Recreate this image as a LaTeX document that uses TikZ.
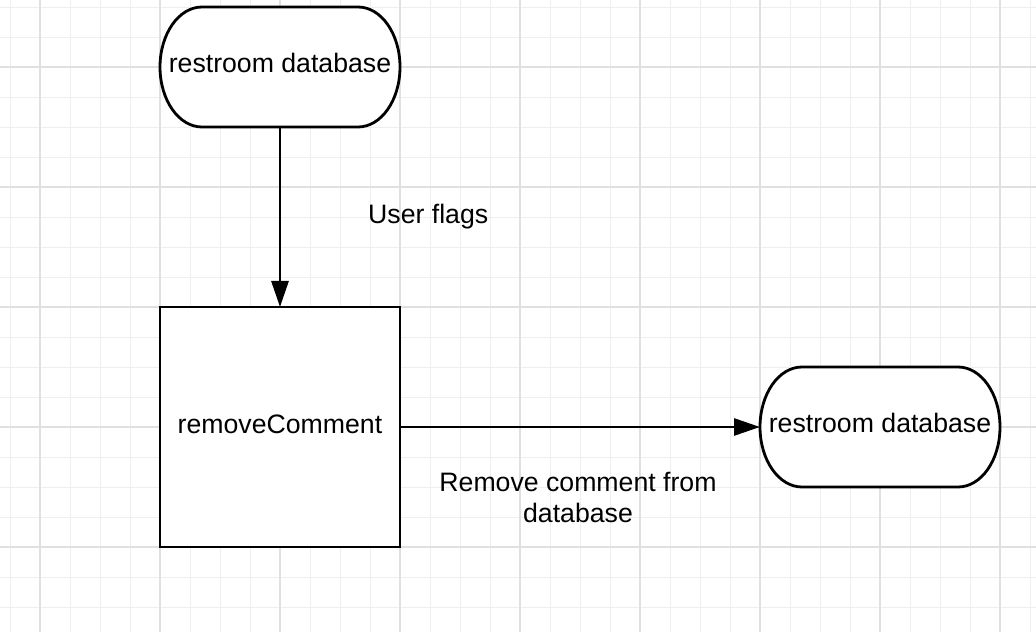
\documentclass[tikz,border=0pt]{standalone}
\usepackage{fontspec}
\setmainfont{Liberation Sans}
\usetikzlibrary{arrows.meta}
\definecolor{gridminor}{HTML}{EEEEEE}
\definecolor{gridmajor}{HTML}{E0E0E0}
\tikzset{
  minorline/.style={draw=gridminor, line width=0.9pt},
  majorline/.style={draw=gridmajor, line width=1.1pt},
  termnode/.style={rectangle, draw=none, inner sep=0pt, outer sep=0pt,
    minimum width=240pt, minimum height=120pt, text depth=8pt,
    font=\fontsize{26.67}{31}\selectfont},
  procnode/.style={rectangle, draw=black, line width=2.8pt, inner sep=0pt, outer sep=0pt,
    minimum width=240pt, minimum height=240pt, fill=white, text depth=6pt,
    font=\fontsize{26.67}{31}\selectfont},
  outline/.style={draw=black, line width=2.8pt, fill=white},
  arr/.style={draw=black, line width=2.8pt, -{Triangle[length=26pt, width=17pt]}},
  lbl/.style={inner sep=0pt, font=\fontsize{26.67}{31}\selectfont}
}
\begin{document}
\begin{tikzpicture}[x=1pt, y=1pt]
\useasboundingbox (0,0) rectangle (1036,632);
\fill[white] (0,0) rectangle (1036,632);
% grid
\foreach \x in {10,40,...,1030} \draw[minorline] (\x,0) -- (\x,632);
\foreach \y in {25,55,...,625} \draw[minorline] (0,\y) -- (1036,\y);
\foreach \x in {40,160,...,1000} \draw[majorline] (\x,0) -- (\x,632);
\foreach \y in {85,205,...,565} \draw[majorline] (0,\y) -- (1036,\y);
% nodes
\node[termnode] (top) at (280,565) {};
\draw[outline] ([xshift=42pt]top.north west) -- ([xshift=-42pt]top.north east)
  arc[start angle=90, end angle=-90, x radius=42pt, y radius=60pt]
  -- ([xshift=42pt]top.south west)
  arc[start angle=270, end angle=90, x radius=42pt, y radius=60pt] -- cycle;
\node[termnode] (topt) at (top.center) {restroom database};

\node[termnode] (right) at (880,205) {};
\draw[outline] ([xshift=42pt]right.north west) -- ([xshift=-42pt]right.north east)
  arc[start angle=90, end angle=-90, x radius=42pt, y radius=60pt]
  -- ([xshift=42pt]right.south west)
  arc[start angle=270, end angle=90, x radius=42pt, y radius=60pt] -- cycle;
\node[termnode] (rightt) at (right.center) {restroom database};

\node[procnode] (box) at (280,205) {removeComment};

% connectors
\draw[arr] (top.south) -- (box.north);
\draw[arr] (box.east) -- (right.west);

% labels
\node[lbl, anchor=base west] (flags) at (368,408) {User flags};
\node[lbl, anchor=base, align=center] (remove) at (578,109) {Remove comment from\\database};
\end{tikzpicture}
\end{document}
